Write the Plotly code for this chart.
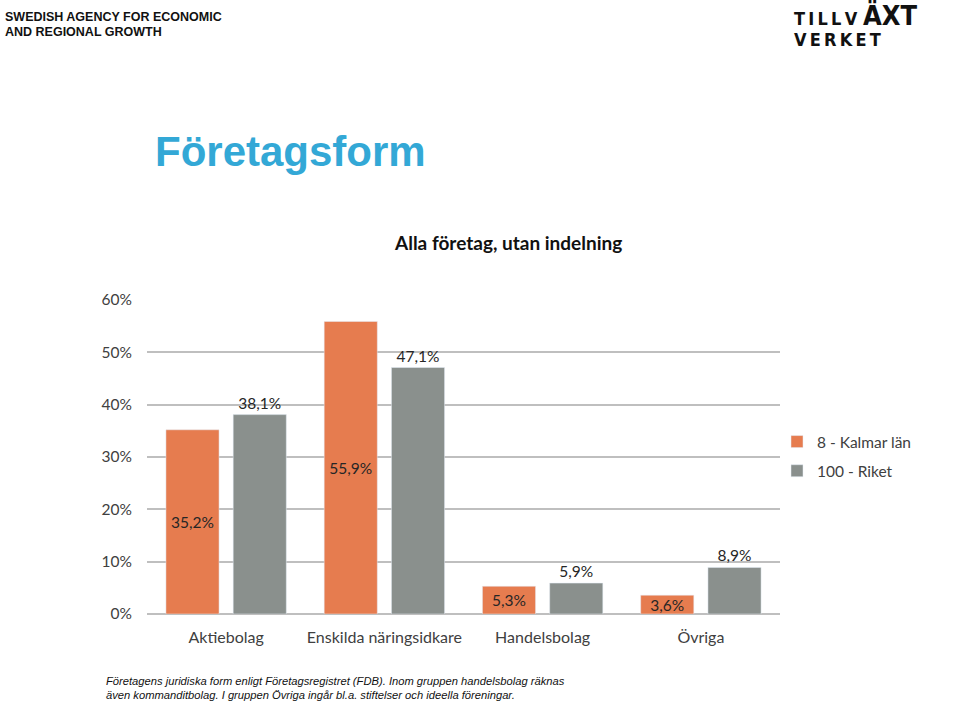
import plotly.graph_objects as go

categories = ["Aktiebolag", "Enskilda näringsidkare", "Handelsbolag", "Övriga"]
kalmar = [35.2, 55.9, 5.3, 3.6]
riket = [38.1, 47.1, 5.9, 8.9]
series_names = ["8 - Kalmar län", "100 - Riket"]
y_ticks = [0, 10, 20, 30, 40, 50, 60]
y_tick_text = [f"{v}%" for v in y_ticks]

header_lines = ["SWEDISH AGENCY FOR ECONOMIC", "AND REGIONAL GROWTH"]
footer_lines = [
    "Företagens juridiska form enligt Företagsregistret (FDB). Inom gruppen handelsbolag räknas",
    "även kommanditbolag. I gruppen Övriga ingår bl.a. stiftelser och ideella föreningar.",
]

ORANGE = "#E67C4F"
GREY = "#8A908D"
FONT = "Lato, Calibri, sans-serif"
LOGO_FONT = "DejaVu Sans Condensed, DejaVu Sans"

# plot area in pixels: x 147..780, y 300..614
L, R, T, B = 147, 780, 300, 614


def px(x):
    return (x - L) / (R - L)


def py(y):
    return (B - y) / (B - T)


def pct(v):
    return f"{v:.1f}%".replace(".", ",")


fig = go.Figure()
fig.add_trace(go.Bar(
    x=categories, y=kalmar, name=series_names[0], marker_color=ORANGE,
    text=[pct(v) for v in kalmar], textposition="inside", insidetextanchor="middle",
    constraintext="none", textfont=dict(family=FONT, size=15.5, color="#262626"),
    legendgroup="a",
))
fig.add_trace(go.Bar(
    x=categories, y=riket, name=series_names[1], marker_color=GREY,
    text=[pct(v) for v in riket], textposition="outside",
    constraintext="none", textfont=dict(family=FONT, size=15.5, color="#262626"),
    legendgroup="b",
))

fig.update_layout(
    width=960, height=703,
    margin=dict(l=L, r=960 - R, t=T, b=703 - B, pad=0),
    plot_bgcolor="white", paper_bgcolor="white",
    barmode="group", bargap=0.15, bargroupgap=0.21,
    font=dict(family=FONT, size=15.5, color="#404040"),
    legend=dict(x=px(777), y=py(425), xanchor="left", yanchor="top",
                font=dict(family=FONT, size=15.5, color="#404040"),
                tracegroupgap=6, bgcolor="rgba(0,0,0,0)"),
    showlegend=True,
)
fig.update_yaxes(
    range=[0, 60], tickvals=y_ticks, ticktext=y_tick_text, showgrid=True,
    gridcolor="#BFBFBF", gridwidth=1.5, zeroline=True, zerolinecolor="#BFBFBF",
    zerolinewidth=1.5, showline=False, ticklabelstandoff=14,
    tickfont=dict(family=FONT, size=15.5, color="#404040"),
)
fig.update_xaxes(
    showline=False, ticks="", ticklabelstandoff=12,
    tickfont=dict(family=FONT, size=16, color="#404040"),
)

annotations = [
    dict(x=px(3), y=py(17), text=f"<b>{header_lines[0]}</b>", xanchor="left", yanchor="middle",
         font=dict(family="Liberation Sans, Arial", size=12.5, color="#111111")),
    dict(x=px(3), y=py(32), text=f"<b>{header_lines[1]}</b>", xanchor="left", yanchor="middle",
         font=dict(family="Liberation Sans, Arial", size=12.5, color="#111111")),
    # logo
    dict(x=px(792), y=py(18), text="<b>T\u2009I\u2009L\u2009L\u2009V</b>",
         xanchor="left", yanchor="middle",
         font=dict(family=LOGO_FONT, size=18, color="#111111")),
    dict(x=px(861), y=py(15), text="<b>ÄXT</b>",
         xanchor="left", yanchor="middle",
         font=dict(family=LOGO_FONT, size=27, color="#111111")),
    dict(x=px(792), y=py(39), text="<b>V\u2009E\u2009R\u2009K\u2009E\u2009T</b>",
         xanchor="left", yanchor="middle",
         font=dict(family=LOGO_FONT, size=18, color="#111111")),
    dict(x=px(153), y=py(151), text="<b>Företagsform</b>",
         xanchor="left", yanchor="middle",
         font=dict(family="Liberation Sans, Arial", size=42, color="#33A8D6")),
    dict(x=px(508), y=py(243), text="<b>Alla företag, utan indelning</b>",
         xanchor="center", yanchor="middle",
         font=dict(family=FONT, size=19, color="#111111")),
    dict(x=px(104), y=py(681), text=f"<i>{footer_lines[0]}</i>", xanchor="left", yanchor="middle",
         font=dict(family="Liberation Sans, Arial", size=11.2, color="#111111")),
    dict(x=px(104), y=py(695), text=f"<i>{footer_lines[1]}</i>", xanchor="left", yanchor="middle",
         font=dict(family="Liberation Sans, Arial", size=11.2, color="#111111")),
]
for a in annotations:
    a.update(xref="paper", yref="paper", showarrow=False)
fig.update_layout(annotations=annotations)

fig.write_html("out.html", config={"displayModeBar": False},
               post_script="document.body.style.margin='0';")
